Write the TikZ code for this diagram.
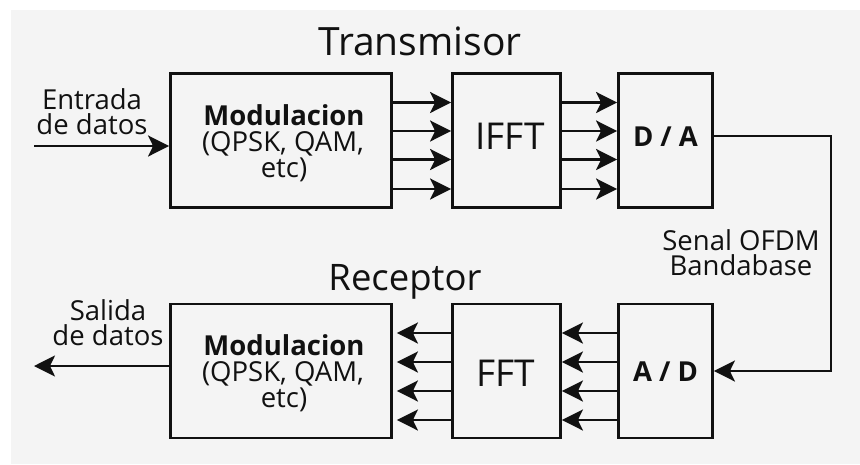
\documentclass[tikz,border=0pt]{standalone}
\usepackage{fontspec}
\setmainfont{Open Sans}
\usetikzlibrary{arrows.meta}
\definecolor{bgray}{HTML}{F4F4F4}
\definecolor{ink}{HTML}{111111}
\newcommand\mytwoline[3]{\vtop{\baselineskip=#1\lineskiplimit=-100pt\relax\halign{\hfil##\hfil\cr#2\cr#3\cr}}}
\begin{document}
\begin{tikzpicture}[x=1pt,y=-1pt,
  blk/.style={draw=ink,line width=2.8pt,inner sep=0pt,minimum width=#1,minimum height=134pt},
  arr/.style={draw=ink,line width=2.4pt,-{Stealth[length=21pt,width=21pt,inset=5pt]}},
  lab/.style={anchor=base,inner sep=0pt,text=ink,text depth=0pt,font=\fontsize{27.5}{30}\selectfont},
  blab/.style={anchor=base,inner sep=0pt,text=ink,text depth=0pt,font=\fontsize{27.5}{30}\selectfont\bfseries},
  big/.style={anchor=base,inner sep=0pt,text=ink,font=\fontsize{39}{42}\selectfont}]
\useasboundingbox (0,0) rectangle (860,464);
\fill[white] (0,0) rectangle (860,464);
\fill[bgray] (11,10) rectangle (860,464);

% titles
\node[big] (ttx) at (420,55) {Transmisor};
\node[big,font=\fontsize{36.5}{38}\selectfont] (trx) at (405,290) {Receptor};

% transmitter blocks
\node[blk=221pt] (mt) at (281,140.5) {};
\node[blk=108pt] (ifft) at (506.5,140.5) {};
\node[blk=94pt] (da) at (665.5,140.5) {};
% receiver blocks
\node[blk=221pt] (mb) at (281,371) {};
\node[blk=108pt] (fft) at (506.5,371) {};
\node[blk=94pt] (ad) at (665.5,371) {};

% block texts
\node[blab] (mt1) at (284,125) {Modulacion};
\node[lab] (mt2) at (283,151) {(QPSK, QAM,};
\node[lab] (mt3) at (284,177) {etc)};
\node[big,font=\fontsize{37}{40}\selectfont] (t1) at (510,149) {IFFT};
\node[blab] (t2) at (665.5,146) {D / A};

\node[blab] (mb1) at (284,355) {Modulacion};
\node[lab] (mb2) at (283,381) {(QPSK, QAM,};
\node[lab] (mb3) at (284,407) {etc)};
\node[big,font=\fontsize{37}{40}\selectfont] (t3) at (506,386) {FFT};
\node[blab] (t4) at (665.5,381) {A / D};

% side labels
\node[lab] (ent) at (92,109) {\mytwoline{25pt}{Entrada}{de datos}};
\node[lab] (sal) at (108,320) {\mytwoline{25pt}{Salida}{de datos}};
\node[lab] (ofdm) at (741,250) {\mytwoline{25pt}{Senal OFDM}{Bandabase}};

% input / output
\coordinate (in) at (34,146);
\coordinate (out) at (34,366);
\draw[arr] (in) -- (mt.west |- in);
\draw[arr] (mb.west |- out) -- (out);

% parallel arrows
\foreach \yy in {102.5,131,159.5,189}{
  \draw[arr] (mt.east |- 0,\yy) -- (ifft.west |- 0,\yy);
  \draw[arr] (ifft.east |- 0,\yy) -- (da.west |- 0,\yy);
}
\foreach \yy in {333,362,391,420}{
  \draw[arr] (ad.west |- 0,\yy) -- (fft.east |- 0,\yy);
  \draw[arr] (fft.west |- 0,\yy) -- ([xshift=4pt]mb.east |- 0,\yy);
}

% channel
\coordinate (c1) at (831,136);
\draw[arr] (da.east |- c1) -- (c1) |- (ad.east);
\end{tikzpicture}
\end{document}
